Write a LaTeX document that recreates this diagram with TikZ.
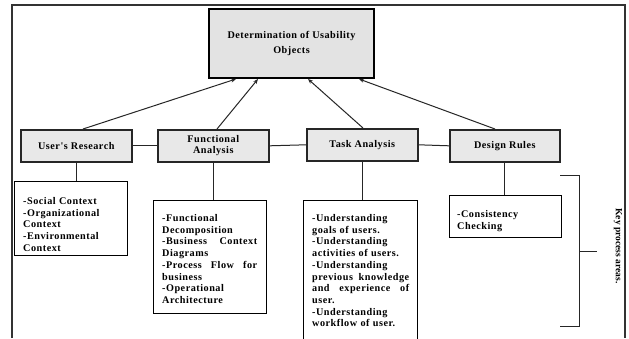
\documentclass[tikz,border=0pt]{standalone}
\usepackage{fontspec}
\setmainfont{Liberation Serif}
\newfontfamily\lsfont[LetterSpace=5]{Liberation Serif}
\usetikzlibrary{arrows.meta,calc}
\begin{document}
\begin{tikzpicture}[x=1pt,y=-1pt,
  frame/.style={draw=black!80,line width=1.4pt},
  topbox/.style={draw=black,line width=2pt,fill=black!11,inner sep=0pt,align=center,
     font=\lsfont\fontsize{10.2}{14.5}\selectfont\bfseries},
  head/.style={draw=black!85,line width=1.6pt,fill=black!9,inner sep=0pt,align=center,
     minimum height=32pt,font=\lsfont\fontsize{10.2}{11.5}\selectfont\bfseries},
  sub/.style={draw=black,line width=1.2pt,fill=white,inner sep=0pt},
  subtext/.style={inner sep=0pt,align=left,anchor=base west,
     font=\lsfont\fontsize{10.2}{11.7}\selectfont\bfseries},
  conn/.style={draw=black!85,line width=1pt},
  arr/.style={draw=black!85,line width=1pt,-{Stealth[length=5pt,width=4pt]}}]
\useasboundingbox[fill=white] (0,0) rectangle (629,338);
% frame
\coordinate (f1) at (12,338);
\coordinate (f2) at (12,5);
\coordinate (f3) at (625,5);
\coordinate (f4) at (625,338);
\draw[frame] (f1) -- (f2) -- (f3) -- (f4);
% top box
\node[topbox,minimum width=165pt,minimum height=69pt,anchor=north west] (top) at (208,8)
  {Determination of Usability\\Objects};
% headers
\node[head,minimum width=111pt,anchor=north west] (ur) at (20,129) {User's Research};
\node[head,minimum width=111pt,anchor=north west] (fa) at (157,129) {Functional\\Analysis};
\node[head,minimum width=111pt,anchor=north west] (ta) at (306,128) {Task Analysis};
\node[head,minimum width=110pt,anchor=north west] (dr) at (449,129) {Design Rules};
% arrows
\draw[arr] ([xshift=63pt]ur.north west) -- ([xshift=28pt]top.south west);
\draw[arr] ([xshift=60pt]fa.north west) -- ([xshift=50pt]top.south west);
\draw[arr] ([xshift=57pt]ta.north west) -- ([xshift=100pt]top.south west);
\draw[arr] ([xshift=46pt]dr.north west) -- ([xshift=151pt]top.south west);
% horizontal links
\draw[conn] (ur.east) -- (fa.west);
\draw[conn] (fa.east) -- (ta.west);
\draw[conn] (ta.east) -- (dr.west);
% sub boxes
\node[sub,minimum width=113pt,minimum height=74pt,anchor=north west] (us) at (14,181) {};
\node[sub,minimum width=113pt,minimum height=113pt,anchor=north west] (fs) at (153,200) {};
\node[sub,minimum width=114pt,minimum height=140pt,anchor=north west] (ts) at (303,200) {};
\node[sub,minimum width=112pt,minimum height=42pt,anchor=north west] (ds) at (449,195) {};
\draw[conn] (ur.south) -- (ur.south |- us.north);
\draw[conn] (fa.south) -- (fa.south |- fs.north);
\draw[conn] (ta.south) -- (ta.south |- ts.north);
\draw[conn] (dr.south) -- (dr.south |- ds.north);
% sub texts
\node[subtext,text width=100pt] (ust) at (23,204.5)
  {-Social Context\\-Organizational\\Context\\-Environmental\\Context};
\node[subtext,text width=95pt] (fst) at (162,221.5)
  {-Functional\\Decomposition\\-Business\hfill Context\\Diagrams\\-Process\hfill Flow\hfill for\\business\\-Operational\\Architecture};
\node[subtext,text width=97pt] (tst) at (312,221.5)
  {-Understanding\\goals of users.\\-Understanding\\activities of users.\\-Understanding\\previous\hfill knowledge\\and\hfill experience\hfill of\\user.\\-Understanding\\workflow of user.};
\node[subtext,text width=95pt] (dst) at (457,217.5)
  {-Consistency\\Checking};
% bracket
\coordinate (b1) at (560,175);
\coordinate (b2) at (579,175);
\coordinate (b3) at (579,326);
\coordinate (b4) at (560,326);
\coordinate (bm) at (579,251);
\coordinate (bt) at (597,251);
\draw[conn] (b1) -- (b2) -- (b3) -- (b4);
\draw[conn] (bm) -- (bt);
\node[rotate=-90,inner sep=0pt,font=\fontsize{9.5}{10}\selectfont\bfseries] (kpa) at (618,246) {Key process areas.};
\end{tikzpicture}
\end{document}
